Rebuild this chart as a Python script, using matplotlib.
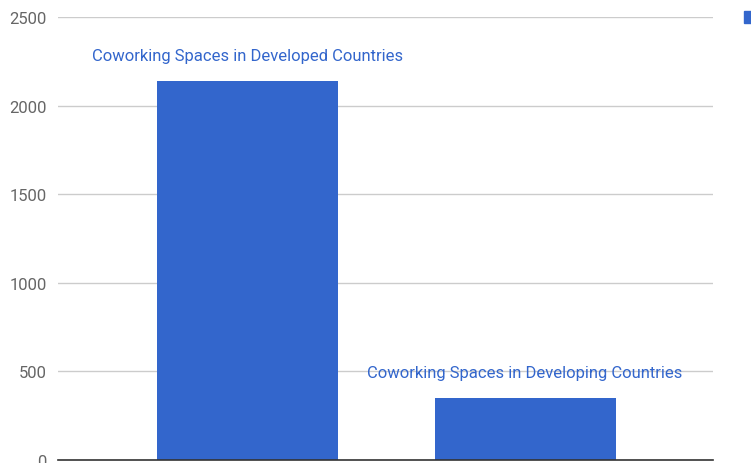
import matplotlib
matplotlib.use('Agg')
import matplotlib.pyplot as plt
from matplotlib.patches import Rectangle

# coworking space counts
categories = ['Coworking Spaces in Developed Countries',
              'Coworking Spaces in Developing Countries']
values = [2140, 350]
yticks = [0, 500, 1000, 1500, 2000, 2500]

BLUE = '#3366cc'

plt.rcParams['font.family'] = ['Roboto', 'DejaVu Sans']

fig = plt.figure(figsize=(7.51, 4.64), dpi=100)
ax = fig.add_axes([58 / 751, 3 / 464, 655 / 751, 443 / 464])

x = range(len(values))
ax.bar(x, values, width=0.652, color=BLUE, zorder=2)

# label each bar above its top
for xi, v, name in zip(x, values, categories):
    ax.text(xi, v + 145, name, ha='center', va='center',
            color=BLUE, fontsize=12, zorder=3)

ax.set_xlim(-0.683, 1.677)
ax.set_ylim(0, 2500)
ax.set_yticks(yticks)
ax.set_xticks([])
ax.grid(axis='y', color='#cccccc', linewidth=1, zorder=0)
ax.tick_params(axis='y', length=0, pad=8, labelsize=12, labelcolor='#666666')
for side in ['top', 'right', 'left']:
    ax.spines[side].set_visible(False)
ax.spines['bottom'].set_color('#333333')
ax.spines['bottom'].set_linewidth(1.2)
ax.spines['bottom'].set_zorder(3)

# legend swatch, clipped at the right edge
fig.patches.append(Rectangle((744 / 751, 440 / 464), 12 / 751, 12 / 464,
                             transform=fig.transFigure, color=BLUE))

fig.savefig('out.png', dpi=100)
